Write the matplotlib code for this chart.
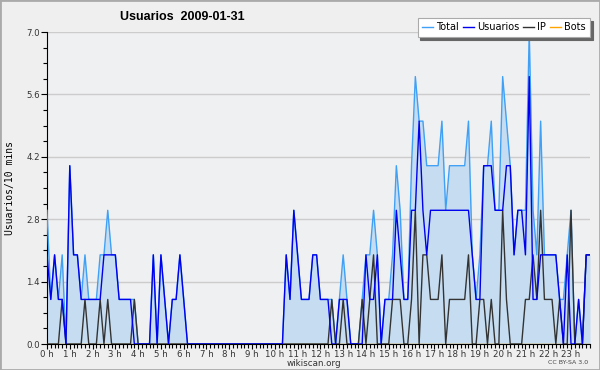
import matplotlib
matplotlib.use("Agg")
import matplotlib.pyplot as plt
import numpy as np

# 10-minute slots, 144 per day
usuarios = [2,1,2,1,1,0,4,2,2,1,1,1,1,1,1,2,2,2,2,1,1,1,1,0,
            0,0,0,0,2,0,2,1,0,1,1,2,1,0,0,0,0,0,0,0,0,0,0,0,
            0,0,0,0,0,0,0,0,0,0,0,0,0,0,0,2,1,3,2,1,1,1,2,2,
            1,1,1,0,0,1,1,1,0,0,0,0,2,1,1,2,0,1,1,1,3,2,1,1,
            3,3,5,3,2,3,3,3,3,3,3,3,3,3,3,3,2,1,1,4,4,4,3,3,
            3,4,4,2,3,3,2,6,1,1,2,2,2,2,2,1,0,2,0,0,1,0,2,2]
ip =       [0,0,0,0,1,0,0,0,0,0,1,0,0,0,1,0,1,0,0,0,0,0,0,1,
            0,0,0,0,0,0,0,0,0,0,0,0,0,0,0,0,0,0,0,0,0,0,0,0,
            0,0,0,0,0,0,0,0,0,0,0,0,0,0,0,0,0,0,0,0,0,0,0,0,
            0,0,0,1,0,0,1,0,0,0,0,1,0,1,2,0,0,0,0,1,1,1,0,0,
            1,3,0,2,2,1,1,1,2,0,1,1,1,1,1,2,0,0,1,1,0,1,0,0,
            3,1,0,0,0,0,1,1,2,1,3,1,1,1,0,1,0,0,3,0,0,0,2,2]
total =    [3,1,2,1,2,0,4,2,2,1,2,1,1,1,2,2,3,2,2,1,1,1,1,1,
            0,0,0,0,2,0,2,1,0,1,1,2,1,0,0,0,0,0,0,0,0,0,0,0,
            0,0,0,0,0,0,0,0,0,0,0,0,0,0,0,2,1,3,2,1,1,1,2,2,
            1,1,1,1,0,1,2,1,0,0,0,1,2,2,3,2,0,1,1,2,4,3,1,1,
            4,6,5,5,4,4,4,4,5,3,4,4,4,4,4,5,2,1,2,4,4,5,3,3,
            6,5,4,2,3,3,3,7,3,2,5,2,2,2,2,1,1,2,3,0,1,0,2,2]
bots = [0] * 144

hour_labels = [f"{h} h" for h in range(24)]
y_ticks = [0.0, 1.4, 2.8, 4.2, 5.6, 7.0]

fig = plt.figure(figsize=(6.0, 3.7), dpi=100, facecolor="#efefef")
ax = fig.add_axes([47/600, 26/370, 543/600, 312/370])
ax.set_facecolor("#eff0f2")

x = np.arange(len(total))
ax.fill_between(x, 0, total, color="#c6ddf1", lw=0, zorder=1)
l_bots, = ax.plot(x, bots, color="#ffa500", lw=1, zorder=2)
l_total, = ax.plot(x, total, color="#3fa0f5", lw=1, zorder=3)
l_ip, = ax.plot(x, ip, color="#333333", lw=1, zorder=4)
l_usr, = ax.plot(x, usuarios, color="#0000ee", lw=1, zorder=5)

ax.set_xlim(0, 143)
ax.set_ylim(0, 7.0)
ax.set_yticks(y_ticks)
ax.set_yticklabels([f"{v:.1f}" for v in y_ticks])
ax.set_yticks(np.arange(0, 7.01, 0.35), minor=True)
ax.set_xticks(np.arange(0, 144, 6))
ax.set_xticklabels(hour_labels)
ax.set_xticks(np.arange(0, 144, 1), minor=True)
ax.grid(axis="y", color="#cccccc", lw=1, zorder=0)
ax.set_axisbelow(True)
for s in ["top", "right"]:
    ax.spines[s].set_visible(False)
ax.spines["left"].set_color("black")
ax.spines["bottom"].set_color("black")
ax.tick_params(axis="both", which="both", direction="out", length=3, width=0.8,
               labelsize=6.2, pad=0.5, colors="black", labelcolor="#333333")
ax.tick_params(axis="x", which="major", length=3.5)
ax.tick_params(axis="y", which="major", length=4, pad=1)

ax.set_ylabel("Usuarios/10 mins", family="DejaVu Sans Mono", fontsize=7, labelpad=8)

fig.text(314/600, 1 - 364/370, "wikiscan.org", fontsize=6.3, ha="center", va="center",
         color="#333333")
fig.text(120/600, 1 - 17/370, "Usuarios  2009-01-31", fontsize=9,
         family="Liberation Sans", fontweight="bold", va="center", ha="left")
fig.text(588/600, 1 - 362/370, "CC BY-SA 3.0", fontsize=4.5, ha="right", va="center",
         color="#444444")

leg = ax.legend([l_total, l_usr, l_ip, l_bots],
                ["Total", "Usuarios", "IP", "Bots"], loc="upper right",
                bbox_to_anchor=(590/600, 1 - 18/370), bbox_transform=fig.transFigure,
                ncol=4, fontsize=7, frameon=True,
                handlelength=1.1, handletextpad=0.35, columnspacing=0.4,
                borderpad=0.45, borderaxespad=0, fancybox=False,
                shadow={"color": "#666666", "alpha": 1})
leg.get_frame().set_edgecolor("#aaaaaa")
leg.get_frame().set_linewidth(0.8)
leg.set_zorder(10)

border = plt.Rectangle((0, 0), 1, 1, transform=fig.transFigure, fill=False,
                       edgecolor="#aaaaaa", lw=2)
fig.add_artist(border)

fig.savefig("out.png", dpi=100, facecolor=fig.get_facecolor())
